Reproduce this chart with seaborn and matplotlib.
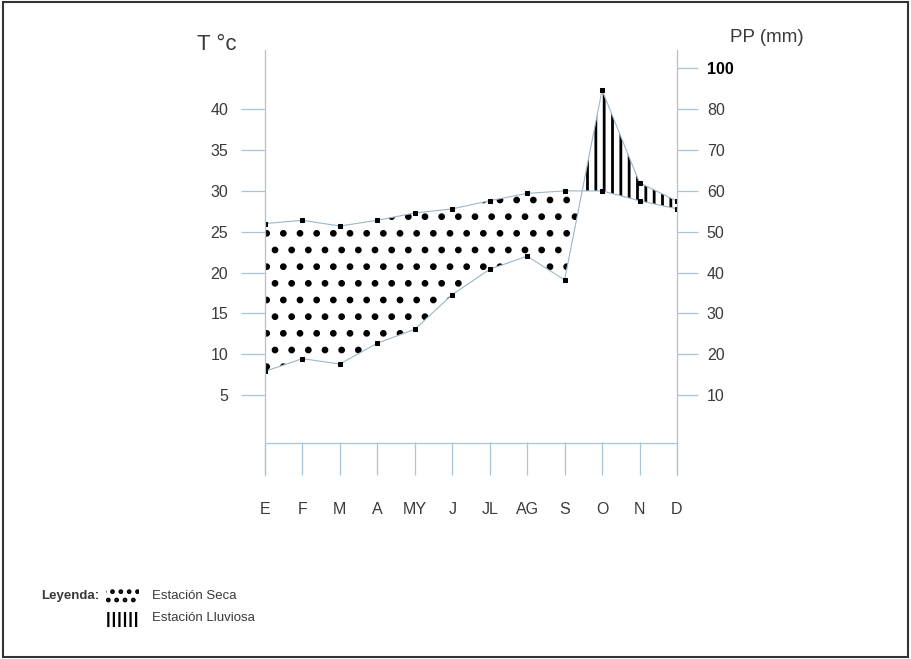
import numpy as np
import pandas as pd
import matplotlib.pyplot as plt
from matplotlib.patches import Rectangle
import seaborn as sns

################################################################
# data
################################################################

months = ['E', 'F', 'M', 'A', 'MY', 'J', 'JL', 'AG', 'S', 'O', 'N', 'D']
temp_c = [26.0, 26.4, 25.7, 26.4, 27.3, 27.8, 28.8, 29.7, 30.0, 30.0, 28.8, 27.8]
precip_mm = [15.8, 18.9, 17.6, 22.7, 26.1, 34.6, 40.8, 44.0, 38.2, 84.7, 62.0, 57.5]

t_ticks = [5, 10, 15, 20, 25, 30, 35, 40]
pp_ticks = [10, 20, 30, 40, 50, 60, 70, 80, 90]
pp_labels = ['10', '20', '30', '40', '50', '60', '70', '80', '100']

################################################################
# style
################################################################

sns.set_theme(style='white')
plt.rcParams['font.family'] = ['Liberation Sans', 'DejaVu Sans']
plt.rcParams['hatch.color'] = 'black'

axis_col = '#aac6d6'
curve_col = '#9db6c6'
text_col = '#3a3a3a'

df = pd.DataFrame({'mes': months, 'x': np.arange(len(months)),
                   'T': temp_c, 'PP': precip_mm})
df['PP2'] = df['PP'] / 2.0   # Gaussen: P = 2T

fig = plt.figure(figsize=(9.11, 6.59), dpi=100)
ax = fig.add_axes([0.2909, 0.2792, 0.4522, 0.6449])

ylo, yhi = -4.8, 47.26
ax.set_xlim(0, 11)
ax.set_ylim(ylo, yhi)

################################################################
# dry / wet season fills
################################################################

t = df['T'].values
p = df['PP2'].values
x = df['x'].values

with plt.rc_context({'hatch.linewidth': 2.4}):
    ax.fill_between(x, t, p, where=t >= p, interpolate=True, hatch='.',
                    facecolor='none', edgecolor='black', linewidth=0)
with plt.rc_context({'hatch.linewidth': 2.0}):
    ax.fill_between(x, t, p, where=p >= t, interpolate=True, hatch='||',
                    facecolor='none', edgecolor='black', linewidth=0)

sns.lineplot(data=df, x='x', y='T', ax=ax, color=curve_col, linewidth=0.8,
             marker='s', markersize=3.5, markerfacecolor='black',
             markeredgecolor='black')
sns.lineplot(data=df, x='x', y='PP2', ax=ax, color=curve_col, linewidth=0.8,
             marker='s', markersize=3.5, markerfacecolor='black',
             markeredgecolor='black')

################################################################
# axes frame
################################################################

ax.axhline(-0.85, color=axis_col, linewidth=0.9)
for s in ['top', 'bottom', 'right']:
    ax.spines[s].set_visible(False)
ax.spines['left'].set_color(axis_col)
ax.spines['left'].set_linewidth(0.9)

ax.set_xticks(x)
ax.set_xticklabels(months, fontsize=11.5, color=text_col)
ax.tick_params(axis='x', direction='in', length=24, width=0.9,
               color=axis_col, pad=19.5, bottom=True)

ax.set_yticks(t_ticks)
ax.set_yticklabels([str(v) for v in t_ticks], fontsize=11.5, color=text_col)
ax.tick_params(axis='y', direction='out', length=17, width=0.9,
               color=axis_col, pad=9.4, left=True)
ax.set_xlabel('')
ax.set_ylabel('')

ax2 = ax.twinx()
ax2.set_ylim(ylo * 2, yhi * 2)
for s in ['top', 'bottom', 'left']:
    ax2.spines[s].set_visible(False)
ax2.spines['right'].set_color(axis_col)
ax2.spines['right'].set_linewidth(0.9)
ax2.set_yticks(pp_ticks)
ax2.set_yticklabels(pp_labels, fontsize=11.5, color=text_col)
ax2.tick_params(axis='y', direction='out', length=15, width=0.9,
                color=axis_col, pad=6.5, right=True)
lab = ax2.get_yticklabels()[-1]
lab.set_fontweight('bold')
lab.set_color('black')
ax2.grid(False)
ax.grid(False)

fig.text(217 / 911, 1 - 45 / 659, 'T °c', fontsize=16, color=text_col,
         ha='center', va='center')
fig.text(767 / 911, 1 - 38 / 659, 'PP (mm)', fontsize=13.5, color=text_col,
         ha='center', va='center')

################################################################
# legend
################################################################

fig.text(41 / 911, 1 - 596 / 659, 'Leyenda:', fontsize=9.5,
         fontweight='bold', color=text_col, va='center')
fig.text(152 / 911, 1 - 596 / 659, 'Estación Seca', fontsize=9.5,
         color=text_col, va='center')
fig.text(152 / 911, 1 - 618 / 659, 'Estación Lluviosa', fontsize=9.5,
         color=text_col, va='center')
with plt.rc_context({'hatch.linewidth': 2.2}):
    fig.add_artist(Rectangle((106 / 911, 1 - 603 / 659), 33 / 911, 15 / 659,
                             transform=fig.transFigure, hatch='..',
                             facecolor='none', edgecolor='black', linewidth=0))
with plt.rc_context({'hatch.linewidth': 1.6}):
    fig.add_artist(Rectangle((106 / 911, 1 - 627 / 659), 32 / 911, 15 / 659,
                             transform=fig.transFigure, hatch='|||',
                             facecolor='none', edgecolor='black', linewidth=0))

# outer frame
fig.add_artist(Rectangle((0.003, 0.003), 0.994, 0.994, transform=fig.transFigure,
                         facecolor='none', edgecolor='#333333', linewidth=1.5))

plt.savefig('out.png', dpi=100)
plt.close()
